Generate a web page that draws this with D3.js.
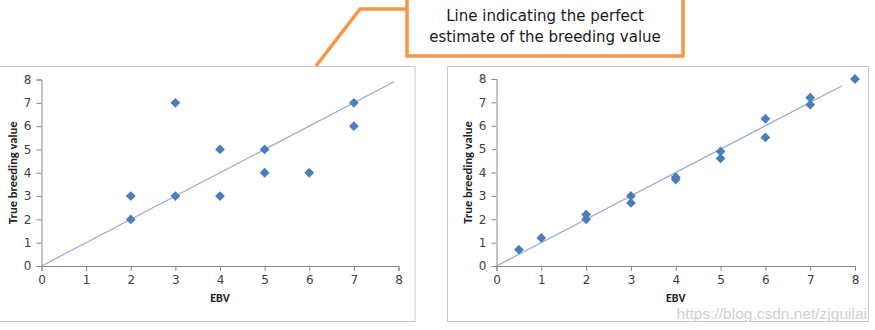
<!DOCTYPE html>
<html><head><meta charset="utf-8">
<script src="https://cdn.jsdelivr.net/npm/d3@7"></script>
<style>body{margin:0;background:#fff;}svg{display:block;}</style>
</head><body>
<svg id="c" width="875" height="330"></svg>
<script>
const axisTicks = [0,1,2,3,4,5,6,7,8];
const leftEBV  = [2,2,3,3,4,4,5,5,6,7,7];
const leftTBV  = [3,2,7,3,5,3,5,4,4,7,6];
const leftLine = [0,7.9];
const rightEBV = [0.5,1,2,2,3,3,4,4,5,5,6,6,7,7,8];
const rightTBV = [0.7,1.2,2.2,2.0,3.0,2.7,3.8,3.7,4.9,4.6,6.3,5.5,7.2,6.9,8];
const rightLine = [0,7.7];
const xTitle = "EBV", yTitle = "True breeding value";
const noteLines = ["Line indicating the perfect","estimate of the breeding value"];

const svg = d3.select("#c");
const font = "Calibri, 'Liberation Sans', 'Open Sans', sans-serif";

function panel(frame, plot, xs, ys, line){
  svg.append("rect").attr("x",frame.x).attr("y",frame.y).attr("width",frame.w).attr("height",frame.h)
    .attr("fill","#fff").attr("stroke","#c8c8c8").attr("stroke-width",1);
  const x = d3.scaleLinear().domain([0,8]).range([plot.x0,plot.x1]);
  const y = d3.scaleLinear().domain([0,8]).range([plot.y0,plot.y1]);
  const g = svg.append("g");
  const ax = g.append("g").attr("transform",`translate(0,${plot.y0})`)
    .call(d3.axisBottom(x).tickValues(axisTicks).tickSize(5).tickPadding(4).tickFormat(d3.format("d")));
  const ay = g.append("g").attr("transform",`translate(${plot.x0},0)`)
    .call(d3.axisLeft(y).tickValues(axisTicks).tickSize(5).tickPadding(5).tickFormat(d3.format("d")));
  [ax,ay].forEach(a=>{
    a.select(".domain").attr("stroke","#898989");
    a.selectAll(".tick line").attr("stroke","#898989");
    a.selectAll("text").attr("fill","#404040").style("font-family","'DejaVu Sans', Verdana, sans-serif").style("font-size","12px");
  });
  g.append("line").attr("x1",x(line[0])).attr("y1",y(line[0])).attr("x2",x(line[1])).attr("y2",y(line[1]))
    .attr("stroke","#93acd1").attr("stroke-width",1.2);
  const sym = d3.symbol().type(d3.symbolSquare).size(48);
  g.selectAll("path.pt").data(xs.map((v,i)=>[v,ys[i]])).join("path").attr("class","pt")
    .attr("d",sym).attr("transform",d=>`translate(${x(d[0])},${y(d[1])}) rotate(45)`)
    .attr("fill","#4a7ebb");
  g.append("text").attr("x",(plot.x0+plot.x1)/2).attr("y",plot.y0+36).attr("text-anchor","middle")
    .style("font-family",font).style("font-weight","bold").style("font-size","12px").attr("fill","#222").text(xTitle);
  g.append("text").attr("transform",`translate(${plot.x0-25},${(plot.y0+plot.y1)/2}) rotate(-90)`)
    .attr("text-anchor","middle")
    .style("font-family",font).style("font-weight","bold").style("font-size","12.5px").attr("fill","#222").text(yTitle);
}

panel({x:-1,y:66.5,w:416,h:255},{x0:41.5,x1:398.5,y0:266,y1:79.5},leftEBV,leftTBV,leftLine);
panel({x:447.5,y:66.5,w:421,h:255},{x0:496.5,x1:855,y0:266,y1:79},rightEBV,rightTBV,rightLine);

// watermark
svg.append("text").attr("x",867).attr("y",318.5).attr("text-anchor","end")
  .style("font-family","'Liberation Sans', Arial, sans-serif").style("font-size","15.5px")
  .attr("fill","#d0d0d0").text("https://blog.csdn.net/zjguilai");

// annotation
const orange = "#f79646";
svg.append("polyline").attr("points","407,9 360,9 316,66").attr("fill","none")
  .attr("stroke",orange).attr("stroke-width",3.5).attr("stroke-linejoin","miter");
svg.append("rect").attr("x",407).attr("y",-5).attr("width",276).attr("height",61)
  .attr("fill","#fff").attr("stroke",orange).attr("stroke-width",3.5);
noteLines.forEach((t,i)=>{
  svg.append("text").attr("x",545).attr("y",21+i*20.5).attr("text-anchor","middle")
    .style("font-family","'DejaVu Sans', Verdana, sans-serif").style("font-size","15px").attr("fill","#1a1a1a").text(t);
});
</script>
</body></html>
